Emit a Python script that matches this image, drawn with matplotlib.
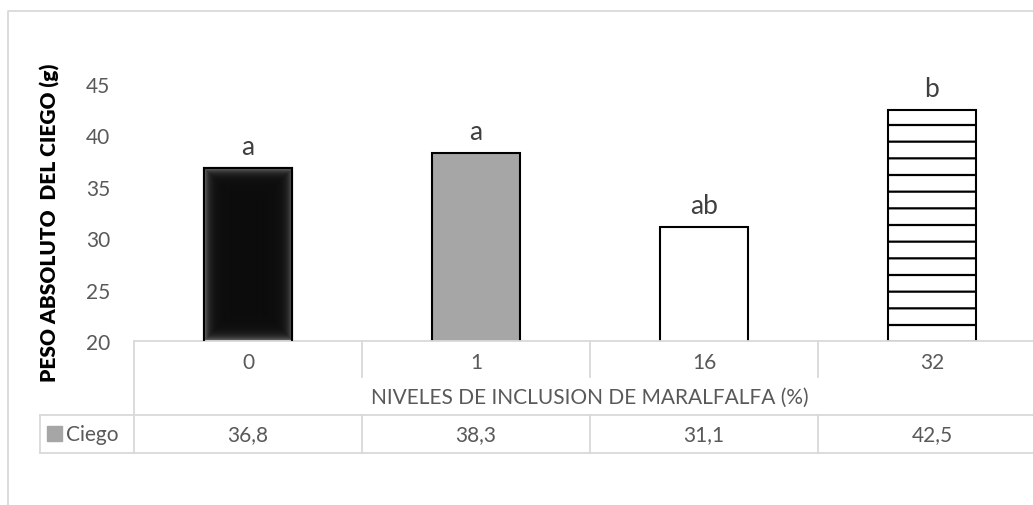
import numpy as np
import matplotlib
matplotlib.use('Agg')
import matplotlib.pyplot as plt
import matplotlib.transforms as mtransforms
from matplotlib.lines import Line2D
from matplotlib.patches import Rectangle

plt.rcParams['font.family'] = ['Lato', 'DejaVu Sans']
plt.rcParams['hatch.linewidth'] = 1.6
plt.rcParams['hatch.color'] = '#303030'

niveles = ['0', '1', '16', '32']
peso = [36.8, 38.3, 31.1, 42.5]
letras = ['a', 'a', 'ab', 'b']
serie = 'Ciego'
titulo_x = 'NIVELES DE INCLUSION DE MARALFALFA (%)'
titulo_y = 'PESO ABSOLUTO  DEL CIEGO (g)'

colores = ['#0d0d0d', '#a6a6a6', 'white', 'white']
tramas = [None, None, None, '-']

W, H = 1033, 506
GRID = '#d9d9d9'
TXT = '#595959'
FS = 15


def fx(px):
    return px / W


def fy(py):
    return 1 - py / H


fig = plt.figure(figsize=(W / 100, H / 100), dpi=100)
ax = fig.add_axes([fx(134), fy(342), (1046 - 134) / W, (342 - 85) / H])

x = np.arange(len(niveles))
ancho = 0.386
barras = ax.bar(x, peso, width=ancho, color=colores, edgecolor='black',
                linewidth=1.5, zorder=2)
for b, h in zip(barras, tramas):
    if h:
        b.set_hatch(h)

ax.set_xlim(-0.5, 3.5)
ax.set_ylim(20, 45)

# soft edge on the dark bar
b0 = barras[0]
x0, x1 = b0.get_x(), b0.get_x() + b0.get_width()
y0, y1 = 20, b0.get_height()
(px0, py0), (px1, py1) = ax.transData.transform([(x0, y0), (x1, y1)])
nw, nh = int(round(px1 - px0)), int(round(py1 - py0))
cx = np.arange(nw) + 0.5
cy = np.arange(nh) + 0.5
dx = np.minimum(cx, nw - cx)[None, :]
dy = np.minimum(cy, nh - cy)[:, None]
d = np.minimum(dx, dy)
gris = 0.05 + 0.42 * np.exp(-d / 4.0)
ax.imshow(gris, cmap='gray', vmin=0, vmax=1, extent=(x0, x1, y0, y1),
          aspect='auto', interpolation='bilinear', zorder=2.5)
ax.add_patch(Rectangle((x0, y0 - 5), x1 - x0, y1 - y0 + 5, fill=False,
                       edgecolor='black', linewidth=1.5, zorder=3))
ax.set_xlim(-0.5, 3.5)
ax.set_ylim(20, 45)

for xi, v, t in zip(x, peso, letras):
    ax.annotate(t, (xi, v), xytext=(0, 10), textcoords='offset points',
                ha='center', va='baseline', fontsize=19, color='#404040')

ax.set_yticks([20, 25, 30, 35, 40, 45])
ax.tick_params(axis='y', length=0, pad=17, labelsize=FS, labelcolor=TXT)
ax.set_xticks([])
for s in ['top', 'right', 'left']:
    ax.spines[s].set_visible(False)
ax.spines['bottom'].set_color(GRID)
ax.spines['bottom'].set_linewidth(1.3)
ax.patch.set_alpha(0)

fig.text(fx(50), fy(223), titulo_y, rotation=90, ha='center', va='center',
         fontsize=15, fontweight='heavy', color='black')

# data table under the axis
tr = mtransforms.blended_transform_factory(ax.transData, fig.transFigure)
lw = 1.3
for xv in [0.5, 1.5, 2.5]:
    fig.add_artist(Line2D([xv, xv], [fy(342), fy(378)], transform=tr,
                          color=GRID, lw=lw, clip_on=False))
    fig.add_artist(Line2D([xv, xv], [fy(416), fy(454)], transform=tr,
                          color=GRID, lw=lw, clip_on=False))
fig.add_artist(Line2D([-0.5, -0.5], [fy(342), fy(454)], transform=tr,
                      color=GRID, lw=lw))
for yy in [416, 454]:
    fig.add_artist(Line2D([fx(40), 1], [fy(yy), fy(yy)], color=GRID, lw=lw))
fig.add_artist(Line2D([fx(40), fx(40)], [fy(416), fy(454)], color=GRID, lw=lw))

for xi, n, v in zip(x, niveles, peso):
    fig.text(xi, fy(363), n, transform=tr, ha='center', va='center',
             fontsize=FS, color=TXT)
    fig.text(xi, fy(435), f'{v:.1f}'.replace('.', ','), transform=tr,
             ha='center', va='center', fontsize=FS, color=TXT)
fig.text(1.5, fy(398), titulo_x, transform=tr, ha='center', va='center',
         fontsize=FS, color=TXT)

fig.add_artist(Rectangle((fx(47), fy(442)), fx(15), 15 / H,
                         transform=fig.transFigure, color='#a6a6a6'))
fig.text(fx(66), fy(435), serie, ha='left', va='center', fontsize=FS,
         color=TXT)

# chart frame
fig.add_artist(Line2D([fx(8), fx(8), 1], [0, fy(12), fy(12)], color=GRID,
                      lw=1.3))

fig.savefig('out.png', dpi=100)
